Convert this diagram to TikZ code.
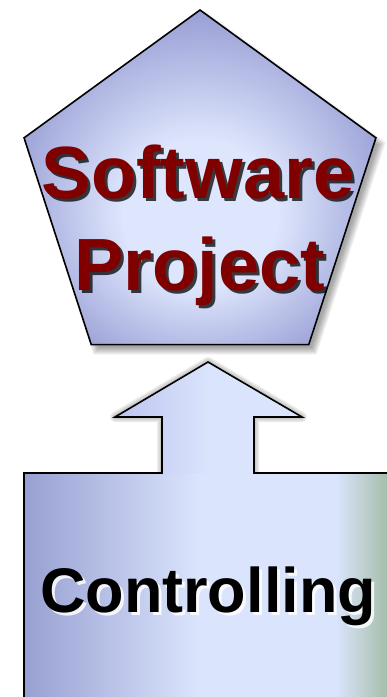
\documentclass[tikz,border=0pt]{standalone}
\usepackage{fontspec}
\setmainfont{Liberation Sans}
\usetikzlibrary{shapes.geometric}
\definecolor{pentDark}{RGB}{148,154,210}
\definecolor{pentLight}{RGB}{222,230,253}
\definecolor{boxL}{RGB}{152,160,210}
\definecolor{boxM}{RGB}{218,228,252}
\definecolor{boxR}{RGB}{166,190,170}
\definecolor{arrL}{RGB}{188,196,238}
\definecolor{arrM}{RGB}{218,228,252}
\definecolor{textRed}{RGB}{128,0,0}
\pgfdeclareradialshading{pentsh}{\pgfpoint{0bp}{-7bp}}{color(0bp)=(pentLight); color(11bp)=(pentLight); color(29bp)=(pentDark); color(50bp)=(pentDark)}
\pgfdeclarehorizontalshading{boxsh}{100bp}{color(0bp)=(boxL); color(25bp)=(boxL); color(49bp)=(boxM); color(68bp)=(boxM); color(75bp)=(boxR); color(100bp)=(boxR)}
\pgfdeclarehorizontalshading{arrsh}{100bp}{color(0bp)=(arrL); color(25bp)=(arrL); color(50bp)=(arrM); color(100bp)=(arrM)}
\tikzset{
  pentshape/.style={regular polygon, regular polygon sides=5, inner sep=0pt, outer sep=0pt},
  bigred/.style={font=\bfseries\fontsize{74pt}{74pt}\selectfont, anchor=base, inner sep=0pt},
  bigblack/.style={font=\bfseries\fontsize{63pt}{63pt}\selectfont, anchor=base, inner sep=0pt},
  outline/.style={draw=black, line width=1.6pt, line join=miter},
}
\begin{document}
\begin{tikzpicture}[x=1pt, y=-1pt]
\useasboundingbox (0,0) rectangle (387,697);
\clip (0,0) rectangle (387,697);
% pentagon shadow
\foreach \k in {0,...,7} {
  \node[pentshape, minimum size={380pt-2.5pt*\k}, fill=black, fill opacity=0.05] (psh\k) at (205,201) {};
}
% pentagon
\node[pentshape, minimum size=370pt, shading=pentsh, draw=black, line width=1.6pt] (pent) at (200,195) {};
% arrow coordinates
\coordinate (tip) at (208,362);
\coordinate (hl) at (115,417);
\coordinate (hr) at (302,417);
\coordinate (sl) at (162,417);
\coordinate (sr) at (254,417);
\coordinate (bl) at (162,473);
\coordinate (br) at (254,473);
\coordinate (boxtl) at (24,473);
\coordinate (boxtr) at (392,473);
\coordinate (boxbl) at (24,700);
\coordinate (boxbr) at (392,700);
% arrow shadow
\begin{scope}[shift={(5,5)}]
\foreach \w in {10,7,4,1} {
  \draw[black, opacity=0.08, line width=\w pt, line join=round, fill=black] (bl) -- (sl) -- (hl) -- (tip) -- (hr) -- (sr) -- (br) -- cycle;
}
\end{scope}
% box fill
\path[shading=boxsh] (boxtl) rectangle (387,700);
% arrow fill
\path[shading=arrsh] (bl) -- (sl) -- (hl) -- (tip) -- (hr) -- (sr) -- (br) -- cycle;
% outline
\draw[outline] (boxbl) -- (boxtl) -- (bl) -- (sl) -- (hl) -- (tip) -- (hr) -- (sr) -- (br) -- (boxtr);
% text: Software Project
\node[bigred, text=black, text opacity=0.75] (sws) at (201,201) {Software};
\node[bigred, text=black, text opacity=0.75] (pjs) at (203,293) {Project};
\node[bigred, text=textRed] (sw) at (198,198) {Software};
\node[bigred, text=textRed] (pj) at (200,290) {Project};
% text: Controlling
\node[bigblack, text=white, text opacity=0.85] (cts) at (211,615) {Controlling};
\node[bigblack, text=black] (ctl) at (208,612) {Controlling};
\end{tikzpicture}
\end{document}
